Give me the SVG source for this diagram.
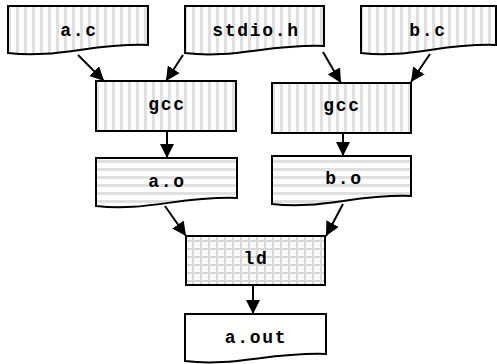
<svg xmlns="http://www.w3.org/2000/svg" width="497" height="364" viewBox="0 0 497 364">
  <style>
    .shape { stroke: #000; stroke-width: 2; }
    .src { fill: url(#vstripe); }
    .obj { fill: url(#hstripe); }
    .link { fill: url(#grid); }
    .out { fill: #fff; }
    .label { font-family: "Liberation Mono", "DejaVu Sans Mono", monospace; font-weight: bold; font-size: 18px; letter-spacing: 1.7px; text-anchor: middle; fill: #000; }
    .edge { stroke: #000; stroke-width: 2; fill: none; marker-end: url(#arrow); }
  </style>
  <defs>
    <pattern id="vstripe" patternUnits="userSpaceOnUse" width="8" height="8">
      <rect width="8" height="8" fill="#fff"/>
      <rect x="0" width="3" height="8" fill="#e0e0e0"/>
    </pattern>
    <pattern id="hstripe" patternUnits="userSpaceOnUse" width="8" height="8">
      <rect width="8" height="8" fill="#fff"/>
      <rect y="0" width="8" height="3" fill="#e0e0e0"/>
    </pattern>
    <pattern id="grid" patternUnits="userSpaceOnUse" width="8" height="8">
      <rect width="8" height="8" fill="#fafafa"/>
      <rect x="0" width="2" height="8" fill="#d8d8d8"/>
      <rect y="0" width="8" height="2" fill="#d8d8d8"/>
    </pattern>
    <marker id="arrow" viewBox="0 0 14 14" markerWidth="14" markerHeight="14" markerUnits="userSpaceOnUse" refX="14" refY="7" orient="auto">
      <path d="M0,0 L14,7 L0,14 Z" fill="#000"/>
    </marker>
  </defs>

  <!-- build steps -->
  <g id="edges">
    <line class="edge" x1="78" y1="55" x2="104" y2="81"/>
    <line class="edge" x1="183" y1="55" x2="166" y2="81"/>
    <line class="edge" x1="323" y1="52" x2="341" y2="83"/>
    <line class="edge" x1="430" y1="54" x2="411" y2="82"/>
    <line class="edge" x1="167" y1="132" x2="167" y2="158"/>
    <line class="edge" x1="343" y1="134" x2="343" y2="156"/>
    <line class="edge" x1="165" y1="206" x2="186" y2="236"/>
    <line class="edge" x1="343" y1="204" x2="326" y2="236"/>
    <line class="edge" x1="253" y1="285" x2="253" y2="314"/>
  </g>

  <!-- source files -->
  <g id="a_c">
    <path class="shape src" d="M8,6 H148 V45 C92,43 57,59 8,53 Z"/>
    <text class="label" x="79" y="36">a.c</text>
  </g>
  <g id="stdio_h">
    <path class="shape src" d="M185,6 H324 V46 C268,44 234,59 185,53 Z"/>
    <text class="label" x="256" y="36">stdio.h</text>
  </g>
  <g id="b_c">
    <path class="shape src" d="M361,6 H496 V45 C442,43 408,59 361,53 Z"/>
    <text class="label" x="428" y="36">b.c</text>
  </g>

  <!-- compilers -->
  <g id="gcc_a">
    <rect class="shape src" x="96" y="81" width="140" height="50"/>
    <text class="label" x="167" y="110">gcc</text>
  </g>
  <g id="gcc_b">
    <rect class="shape src" x="272" y="83" width="139" height="50"/>
    <text class="label" x="342" y="111">gcc</text>
  </g>

  <!-- object files -->
  <g id="a_o">
    <path class="shape obj" d="M96,158 H237 V198 C181,196 145,212 96,206 Z"/>
    <text class="label" x="167" y="187">a.o</text>
  </g>
  <g id="b_o">
    <path class="shape obj" d="M272,156 H411 V196 C355,194 321,210 272,204 Z"/>
    <text class="label" x="344" y="184">b.o</text>
  </g>

  <!-- linker -->
  <g id="ld">
    <rect class="shape link" x="186" y="236" width="139" height="49"/>
    <text class="label" x="256" y="264">ld</text>
  </g>

  <!-- executable -->
  <g id="a_out">
    <path class="shape out" d="M185,314 H326 V354 C270,352 234,367 185,361 Z"/>
    <text class="label" x="256" y="343">a.out</text>
  </g>
</svg>
